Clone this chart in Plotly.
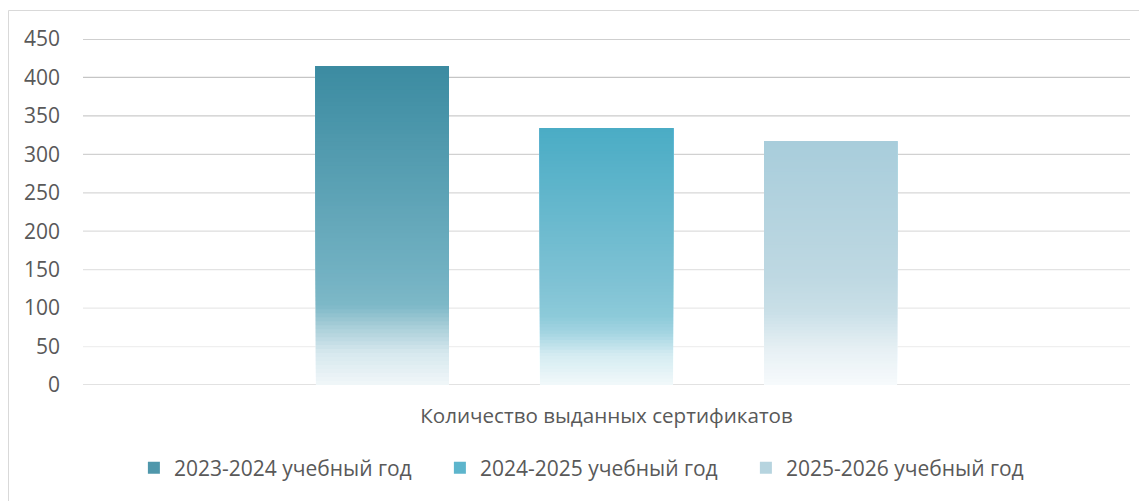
import plotly.graph_objects as go

categories = ["Количество выданных сертификатов"]
series_names = ["2023-2024 учебный год", "2024-2025 учебный год", "2025-2026 учебный год"]
series_values = [415, 334, 317]
y_ticks = [0, 50, 100, 150, 200, 250, 300, 350, 400, 450]

# gradient stops (fraction of bar height from bottom, colour)
gradients = [
    [(0.0, "#f1f7f9"), (0.10, "#d6e8ee"), (0.18, "#aacfd9"), (0.25, "#7db8c7"), (0.35, "#72b1c2"), (1.0, "#3b8ba1")],
    [(0.0, "#f2f9fb"), (0.12, "#d3ebf1"), (0.20, "#a5d5e2"), (0.27, "#8ccad9"), (0.40, "#7fc2d4"), (1.0, "#4aacc5")],
    [(0.0, "#f7fafc"), (0.15, "#e6f0f4"), (0.30, "#c9dfe7"), (0.45, "#bed8e2"), (1.0, "#a8cddb")],
]
legend_colors = ["#4f97ab", "#5db5cc", "#b6d4df"]


def hex2rgb(h):
    h = h.lstrip("#")
    return [int(h[i:i + 2], 16) for i in (0, 2, 4)]


def color_at(stops, f):
    for (f0, c0), (f1, c1) in zip(stops[:-1], stops[1:]):
        if f0 <= f <= f1:
            t = (f - f0) / (f1 - f0) if f1 > f0 else 0
            a, b = hex2rgb(c0), hex2rgb(c1)
            return "rgb(%d,%d,%d)" % tuple(round(a[i] + (b[i] - a[i]) * t) for i in range(3))
    return stops[-1][1]


N = 80
fig = go.Figure()
for si, (name, val) in enumerate(zip(series_names, series_values)):
    stops = gradients[si]
    for k in range(N):
        f0 = k / N
        fig.add_trace(go.Bar(
            x=categories, y=[val * (1 - f0)], base=[val * f0], offsetgroup=str(si),
            marker=dict(color=color_at(stops, f0 + 0.5 / N), line=dict(width=0)),
            showlegend=False, hoverinfo="skip",
        ))
    fig.add_trace(go.Bar(
        x=categories, y=[None], offsetgroup=str(si), name=name,
        marker=dict(color=legend_colors[si], line=dict(width=0)), showlegend=True,
    ))

# gridlines fading from top to bottom
grid_top, grid_bottom = hex2rgb("#bfbfbf"), hex2rgb("#efefef")
shapes = []
for t in y_ticks:
    if t == 0:
        col = "#d9d9d9"
    else:
        fr = (t - 50) / (450 - 50)
        col = "rgb(%d,%d,%d)" % tuple(round(grid_bottom[i] + (grid_top[i] - grid_bottom[i]) * fr) for i in range(3))
    shapes.append(dict(type="line", xref="paper", yref="y", x0=0, x1=1, y0=t, y1=t,
                       line=dict(color=col, width=1.3), layer="below"))
# chart frame
shapes.append(dict(type="rect", xref="paper", yref="paper", x0=-74.5 / 1047, x1=1.2, y0=-1,
                   y1=1 + 28.5 / 346,
                   line=dict(color="#d9d9d9", width=1), fillcolor="rgba(0,0,0,0)", layer="below"))

fig.update_layout(
    width=1147, height=501,
    margin=dict(l=75, r=25, t=31, b=124),
    paper_bgcolor="white", plot_bgcolor="white",
    barmode="group", bargap=0.358, bargroupgap=0.406,
    font=dict(family="Open Sans, sans-serif", color="#595959", size=20),
    shapes=shapes,
    xaxis=dict(showgrid=False, showline=False, zeroline=False, ticks="",
               tickfont=dict(size=20.6), ticklabelstandoff=16),
    yaxis=dict(range=[0, 450], tickvals=y_ticks, showgrid=False, zeroline=False, showline=False,
               ticks="", tickfont=dict(size=21), ticklabelstandoff=22),
    legend=dict(orientation="h", x=0.487, xanchor="center", y=-0.24, yanchor="middle",
                font=dict(size=21), itemwidth=30, traceorder="normal",
                entrywidth=261, entrywidthmode="pixels"),
)

fig.write_html("out.html")
